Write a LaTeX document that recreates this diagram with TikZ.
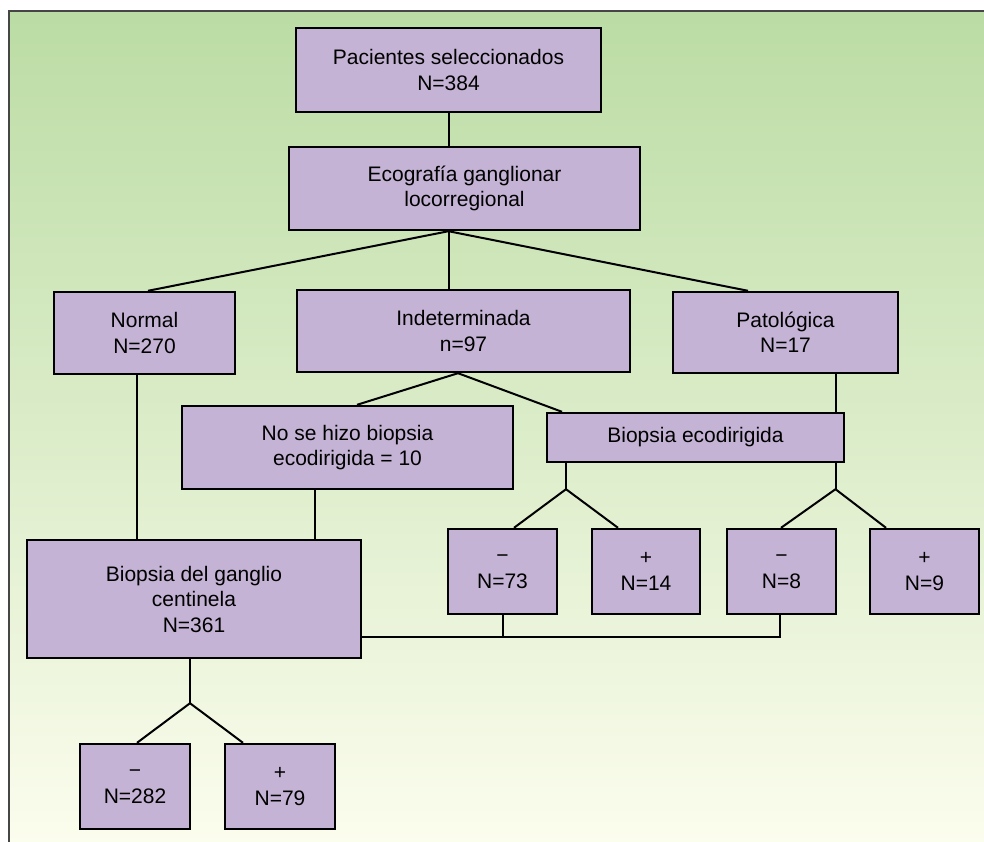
\documentclass[tikz,border=0pt]{standalone}
\usepackage{fontspec}
\setmainfont{Liberation Sans}
\definecolor{bgtop}{RGB}{187,220,164}
\definecolor{bgbot}{RGB}{252,253,238}
\definecolor{boxfill}{RGB}{196,179,213}
\definecolor{framecol}{RGB}{70,70,70}
\tikzset{
  box/.style={draw=black, fill=boxfill, line width=2.4pt, align=center, inner sep=0pt,
    font=\fontsize{21}{25.5}\selectfont, text=black},
  conn/.style={draw=black, line width=2pt},
}
\begin{document}
\begin{tikzpicture}[x=1pt,y=-1pt]
\useasboundingbox (0,0) rectangle (984,841);
\shade[top color=bgtop, bottom color=bgbot] (9,11) rectangle (995,850);
\draw[framecol, line width=1.2pt] (9,850) -- (9,11) -- (995,11);

\node[box, minimum width=305pt, minimum height=84pt] (top) at (448.5,70) {Pacientes seleccionados\\N=384};
\node[box, minimum width=351pt, minimum height=83pt] (eco) at (464.5,188.5) {Ecografía ganglionar\\locorregional};
\node[box, minimum width=181pt, minimum height=82pt] (normal) at (144.5,333) {Normal\\N=270};
\node[box, minimum width=333pt, minimum height=82pt] (indet) at (463.5,331) {Indeterminada\\n=97};
\node[box, minimum width=225pt, minimum height=81pt] (pato) at (785.5,332.5) {Patológica\\N=17};
\node[box, minimum width=331pt, minimum height=83pt] (nose) at (347.5,447.5) {No se hizo biopsia\\ecodirigida = 10};
\node[box, minimum width=297pt, minimum height=49pt] (bioeco) at (695.5,437.5) {Biopsia ecodirigida};
\node[box, minimum width=334pt, minimum height=118pt] (bgc) at (194,599) {Biopsia del ganglio\\centinela\\N=361};
\node[box, minimum width=109pt, minimum height=85pt] (m73) at (502.5,571.5) {−\\N=73};
\node[box, minimum width=108pt, minimum height=85pt] (p14) at (646,571.5) {+\\N=14};
\node[box, minimum width=109pt, minimum height=85pt] (m8) at (781.5,571.5) {−\\N=8};
\node[box, minimum width=109pt, minimum height=85pt] (p9) at (924.5,571.5) {+\\N=9};
\node[box, minimum width=110pt, minimum height=85pt] (m282) at (135,786.5) {−\\N=282};
\node[box, minimum width=110pt, minimum height=85pt] (p79) at (280,786.5) {+\\N=79};

% connectors
\coordinate (f1) at (top.south |- eco.south);
\coordinate (f2) at ([xshift=-5.5pt]indet.south);
\coordinate (f3) at ([xshift=-129.5pt,yshift=-26pt]bioeco.south);
\coordinate (f4) at ([xshift=140pt,yshift=-26pt]bioeco.south);
\coordinate (f5) at ([xshift=-4pt,yshift=-44pt]bgc.south);
\coordinate (j1) at ([yshift=-38pt]bgc.east);
\coordinate (ps) at ([xshift=50pt]pato.south);
\coordinate (ns) at ([xshift=-7.5pt]normal.south);
\coordinate (nh) at ([xshift=-32.5pt]nose.south);

\draw[conn] (top.south) -- (top.south |- eco.north);
\draw[conn] (f1) -- ([xshift=3.5pt]normal.north);
\draw[conn] (f1) -- (f1 |- indet.north);
\draw[conn] (f1) -- ([xshift=-37.5pt]pato.north);
\draw[conn] (f2) -- ([xshift=9.5pt]nose.north);
\draw[conn] (f2) -- ([xshift=-133.5pt]bioeco.north);
\draw[conn] (ps) -- (ps |- bioeco.north);
\draw[conn] (f3 |- bioeco.south) -- (f3);
\draw[conn] (f3) -- ([xshift=11.5pt]m73.north);
\draw[conn] (f3) -- ([xshift=-28pt]p14.north);
\draw[conn] (f4 |- bioeco.south) -- (f4);
\draw[conn] (f4) -- ([xshift=-0.5pt]m8.north);
\draw[conn] (f4) -- ([xshift=-38.5pt]p9.north);
\draw[conn] (ns) -- (ns |- bgc.north);
\draw[conn] (nh) -- (nh |- bgc.north);
\draw[conn] (m73.south) |- (j1);
\draw[conn] ([xshift=-1.5pt]m8.south) |- (j1);
\draw[conn] ([xshift=-4pt]bgc.south) -- (f5);
\draw[conn] (f5) -- ([xshift=2pt]m282.north);
\draw[conn] (f5) -- ([xshift=-37pt]p79.north);
\end{tikzpicture}
\end{document}
